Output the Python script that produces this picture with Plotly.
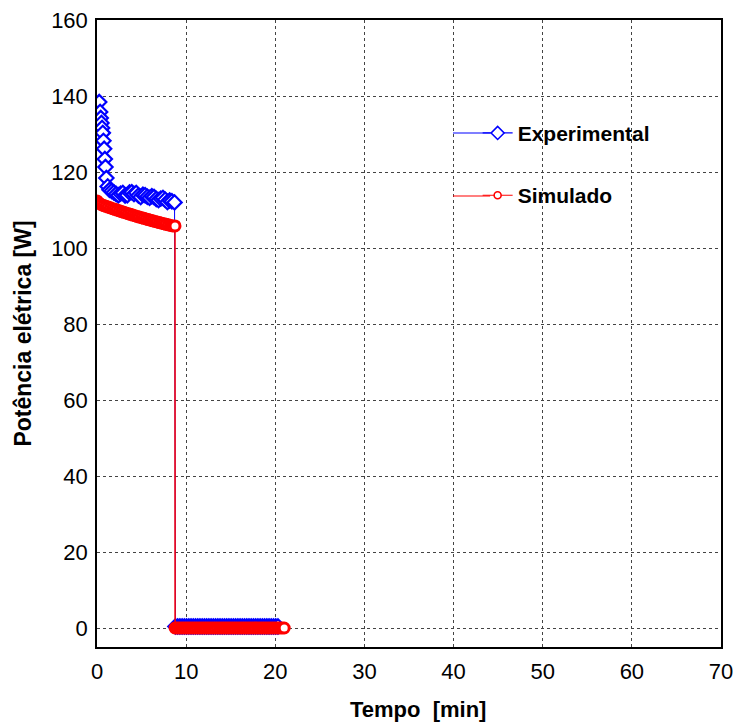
import plotly.graph_objects as go

# Experimental data (time in min, power in W)
exp_time_on = [0.25, 0.35, 0.42, 0.5, 0.57, 0.65, 0.72, 0.8, 0.88, 0.95,
               1.05, 1.2, 1.4, 1.65, 1.9, 2.15, 2.4, 2.65, 2.9, 3.15,
               3.4, 3.65, 3.9, 4.15, 4.4, 4.65, 4.9, 5.15, 5.4, 5.65,
               5.9, 6.15, 6.4, 6.65, 6.9, 7.15, 7.4, 7.65, 7.9, 8.15,
               8.4, 8.7]
exp_power_on = [138.4, 135.8, 134.2, 132.9, 131.6, 130.3, 128.2, 126.1, 123.4, 121.3,
                118.4, 116.2, 115.3, 115.0, 114.6, 114.2, 113.9, 114.3, 114.5, 113.8,
                113.9, 114.6, 114.7, 114.2, 114.5, 113.8, 113.4, 114.0, 113.9, 113.5,
                113.2, 113.6, 113.4, 112.9, 112.6, 113.0, 113.2, 112.7, 112.1, 112.5,
                112.3, 112.0]
exp_time_off = [8.8, 9.05, 9.3, 9.55, 9.8, 10.05, 10.3, 10.55, 10.8, 11.05,
                11.3, 11.55, 11.8, 12.05, 12.3, 12.55, 12.8, 13.05, 13.3, 13.55,
                13.8, 14.05, 14.3, 14.55, 14.8, 15.05, 15.3, 15.55, 15.8, 16.05,
                16.3, 16.55, 16.8, 17.05, 17.3, 17.55, 17.8, 18.05, 18.3, 18.55,
                18.8, 19.05, 19.3, 19.55, 19.8, 20.05, 20.3]
exp_power_off = [0.4, 0.4, 0.4, 0.4, 0.4, 0.4, 0.4, 0.4, 0.4, 0.4,
                 0.4, 0.4, 0.4, 0.4, 0.4, 0.4, 0.4, 0.4, 0.4, 0.4,
                 0.4, 0.4, 0.4, 0.4, 0.4, 0.4, 0.4, 0.4, 0.4, 0.4,
                 0.4, 0.4, 0.4, 0.4, 0.4, 0.4, 0.4, 0.4, 0.4, 0.4,
                 0.4, 0.4, 0.4, 0.4, 0.4, 0.4, 0.4]

# Simulated data
sim_time_on = [0.0, 0.25, 0.5, 0.75, 1.0, 1.25, 1.5, 1.75, 2.0, 2.25,
               2.5, 2.75, 3.0, 3.25, 3.5, 3.75, 4.0, 4.25, 4.5, 4.75,
               5.0, 5.25, 5.5, 5.75, 6.0, 6.25, 6.5, 6.75, 7.0, 7.25,
               7.5, 7.75, 8.0, 8.25, 8.5, 8.75]
sim_power_on = [112.4, 111.8, 111.4, 111.17, 110.97, 110.76, 110.56, 110.36, 110.17, 109.97,
                109.78, 109.59, 109.40, 109.22, 109.03, 108.85, 108.67, 108.49, 108.32, 108.15,
                107.98, 107.81, 107.64, 107.47, 107.31, 107.15, 106.99, 106.84, 106.68, 106.53,
                106.38, 106.23, 106.09, 105.94, 105.80, 105.8]
sim_time_off = [8.76, 9.0, 9.25, 9.5, 9.75, 10.0, 10.25, 10.5, 10.75, 11.0,
                11.25, 11.5, 11.75, 12.0, 12.25, 12.5, 12.75, 13.0, 13.25, 13.5,
                13.75, 14.0, 14.25, 14.5, 14.75, 15.0, 15.25, 15.5, 15.75, 16.0,
                16.25, 16.5, 16.75, 17.0, 17.25, 17.5, 17.75, 18.0, 18.25, 18.5,
                18.75, 19.0, 19.25, 19.5, 19.75, 20.0, 20.25, 20.5, 20.75, 21.0]
sim_power_off = [0, 0, 0, 0, 0, 0, 0, 0, 0, 0,
                 0, 0, 0, 0, 0, 0, 0, 0, 0, 0,
                 0, 0, 0, 0, 0, 0, 0, 0, 0, 0,
                 0, 0, 0, 0, 0, 0, 0, 0, 0, 0,
                 0, 0, 0, 0, 0, 0, 0, 0, 0, 0]

exp_time = exp_time_on + exp_time_off
exp_power = exp_power_on + exp_power_off
sim_time = sim_time_on + sim_time_off
sim_power = sim_power_on + sim_power_off

series_names = ["Experimental", "Simulado"]
x_ticks = [0, 10, 20, 30, 40, 50, 60, 70]
y_ticks = [0, 20, 40, 60, 80, 100, 120, 140, 160]

FONT = "Liberation Sans, Arial, sans-serif"
BLUE = "#0000ff"
RED = "#ff0000"

fig = go.Figure()
# data traces (legend drawn by separate entries with thinner symbols)
fig.add_trace(go.Scatter(
    x=exp_time, y=exp_power, mode="lines+markers", showlegend=False,
    line=dict(color=BLUE, width=1),
    marker=dict(symbol="diamond", size=11, color="white",
                line=dict(color=BLUE, width=2.2)),
))
fig.add_trace(go.Scatter(
    x=sim_time, y=sim_power, mode="lines+markers", showlegend=False,
    line=dict(color=RED, width=1.5),
    marker=dict(symbol="circle", size=10, color="white",
                line=dict(color=RED, width=3)),
))
# legend entries
fig.add_trace(go.Scatter(
    x=[None], y=[None], mode="lines+markers", name="<b>" + series_names[0] + "</b>",
    legendgroup="a",
    line=dict(color=BLUE, width=1.2),
    marker=dict(symbol="diamond", size=10, color="white",
                line=dict(color=BLUE, width=1.6)),
))
fig.add_trace(go.Scatter(
    x=[None], y=[None], mode="lines+markers", name="<b>" + series_names[1] + "</b>",
    legendgroup="b",
    line=dict(color=RED, width=1.2),
    marker=dict(symbol="circle", size=7, color="white",
                line=dict(color=RED, width=1.6)),
))

axis_common = dict(
    showline=True, mirror=True, linecolor="black", linewidth=1.5,
    showgrid=True, gridcolor="#444444", griddash="dot", gridwidth=1,
    zeroline=False, ticks="", automargin=False,
    tickfont=dict(family=FONT, size=22, color="black"),
)

# extend legend sample lines to the left (legend decoration)
legend_ext = [(0.8198, BLUE), (0.7193, RED)]
shapes = [dict(type="line", xref="paper", yref="paper", x0=0.5705, x1=0.63,
               y0=yy, y1=yy, line=dict(color=cc, width=1.2)) for yy, cc in legend_ext]

fig.update_layout(
    width=736, height=724,
    margin=dict(l=97, r=15, t=20, b=77),
    paper_bgcolor="white", plot_bgcolor="white",
    xaxis=dict(range=[0, 70], tickvals=x_ticks, ticklabelstandoff=4,
               title=dict(text="&nbsp;&nbsp;&nbsp;<b>Tempo  [min]</b>", standoff=18,
                          font=dict(family=FONT, size=22, color="black")),
               **axis_common),
    yaxis=dict(range=[-5, 160], tickvals=y_ticks, ticklabelstandoff=3,
               title=dict(text="<b>Potência elétrica [W]</b>", standoff=13,
                          font=dict(family=FONT, size=23, color="black")),
               **axis_common),
    legend=dict(x=0.61, y=0.852, xanchor="left", yanchor="top",
                bgcolor="rgba(0,0,0,0)", borderwidth=0,
                tracegroupgap=32,
                font=dict(family=FONT, size=21, color="black")),
    shapes=shapes,
    font=dict(family=FONT),
)

fig.write_html("out.html", config={"displayModeBar": False},
               post_script="document.body.style.margin='0';document.body.style.overflow='hidden';")
